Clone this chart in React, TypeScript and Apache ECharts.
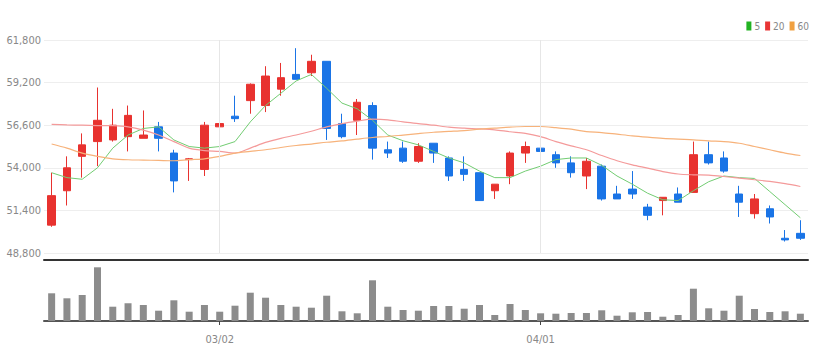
import React, { useEffect, useRef } from "react";
import * as echarts from "echarts";

const dates = [
  "02/14", "02/15", "02/16", "02/17", "02/18", "02/21", "02/22", "02/23", "02/24", "02/25", "02/28",
  "03/02", "03/03", "03/04", "03/07", "03/08", "03/10", "03/11", "03/14", "03/15", "03/16", "03/17", "03/18",
  "03/21", "03/22", "03/23", "03/24", "03/25", "03/28", "03/29", "03/30", "03/31",
  "04/01", "04/04", "04/05", "04/06", "04/07", "04/08", "04/11", "04/12", "04/13", "04/14", "04/15",
  "04/18", "04/19", "04/20", "04/21", "04/22", "04/25", "04/26",
];

const opens = [50500, 52600, 54700, 55600, 55700, 55900, 55800, 56500, 54900, 54500, 53900, 56500, 57150, 58100, 57800, 58800, 59700, 59800, 60500, 56700, 56900, 57800, 55100, 55200, 54400, 55500, 54600, 53900, 53700, 52600, 53500, 54900, 55200, 54800, 54300, 53500, 54100, 52400, 52700, 51600, 52000, 52400, 52500, 54800, 54600, 52400, 51200, 51500, 49700, 50000];
const closes = [52300, 54000, 55400, 56900, 56600, 57200, 56000, 55800, 53200, 54550, 56600, 56700, 57000, 59100, 59600, 59500, 59400, 60500, 56400, 55900, 58000, 55200, 54900, 54400, 55300, 54900, 53500, 53600, 52000, 53000, 54900, 55300, 55000, 54300, 53700, 54400, 52100, 52100, 52400, 51100, 52200, 51900, 54800, 54300, 53800, 51900, 52100, 51000, 49600, 49700];
const lows = [50400, 51700, 53400, 54100, 55600, 55000, 55800, 55000, 52500, 53200, 53500, 55900, 56800, 57300, 57400, 58400, 59400, 59600, 55700, 55800, 56000, 54500, 54600, 54300, 54300, 54300, 53200, 53200, 52000, 52100, 53000, 54300, 54400, 54000, 53400, 52700, 52000, 52100, 52100, 50800, 51100, 51900, 52500, 54200, 53700, 51000, 50900, 50600, 49500, 49600];
const highs = [53700, 54700, 56100, 58900, 57600, 57800, 57500, 56800, 55100, 54600, 56800, 56900, 58400, 59150, 60200, 60400, 61300, 60900, 60500, 57300, 58200, 58000, 55600, 55600, 55500, 55500, 54700, 54700, 53700, 53000, 55000, 55600, 56000, 55000, 54700, 54600, 54200, 52900, 53800, 51800, 52200, 52800, 55600, 55600, 55000, 52900, 52400, 51700, 50200, 50800];

const ma5 = [53700, 53400, 53300, 54000, 55200, 56000, 56400, 56500, 55700, 55300, 55200, 55300, 55600, 56800, 57800, 58550, 59300, 59700, 58850, 57950, 57600, 56900, 56000, 55650, 55400, 55000, 54600, 54300, 53800, 53400, 53400, 53800, 54100, 54500, 54600, 54600, 54150, 53500, 53000, 52450, 52050, 52000, 52600, 53150, 53500, 53400, 53350, 52550, 51750, 50950];
const ma20 = [56650, 56620, 56600, 56580, 56570, 56500, 56300, 56000, 55600, 55200, 55050, 55000, 54900, 55200, 55550, 55800, 56000, 56230, 56500, 56700, 56850, 56970, 56930, 56800, 56700, 56600, 56480, 56420, 56380, 56320, 56200, 56100, 55900, 55600, 55340, 55100, 54750, 54430, 54180, 53980, 53770, 53620, 53570, 53550, 53470, 53370, 53270, 53170, 53030, 52860];
const ma60 = [55450, 55200, 54900, 54700, 54550, 54490, 54470, 54450, 54430, 54500, 54550, 54700, 54900, 55000, 55100, 55240, 55360, 55450, 55560, 55640, 55750, 55850, 55910, 56000, 56090, 56170, 56220, 56270, 56360, 56420, 56480, 56520, 56520, 56450, 56360, 56210, 56150, 56050, 55950, 55870, 55800, 55750, 55710, 55640, 55600, 55500, 55300, 55100, 54900, 54750];

const volumes = [277, 227, 260, 537, 143, 177, 160, 103, 207, 93, 160, 93, 153, 283, 233, 160, 143, 133, 253, 97, 77, 407, 143, 110, 103, 150, 150, 123, 160, 60, 170, 110, 77, 73, 80, 80, 107, 53, 87, 90, 43, 60, 323, 127, 103, 253, 120, 90, 97, 73];

const yTicks = [48800, 51400, 54000, 56600, 59200, 61800];
const monthStarts = ["03/02", "04/01"];

const UP = "#e8322f";
const DOWN = "#1a74e6";
const FONT = '"Liberation Sans Narrow", "DejaVu Sans Condensed", "Liberation Sans", sans-serif';

export default function App() {
  const ref = useRef<HTMLDivElement>(null);
  useEffect(() => {
    if (!ref.current) return;
    const chart = echarts.init(ref.current, null, { renderer: "svg" });
    const showMonth = (_i: number, v: string) => monthStarts.includes(v);
    const ohlc = dates.map((_, i) => [opens[i], closes[i], lows[i], highs[i]]);
    chart.setOption({
      animation: false,
      backgroundColor: "#fff",
      legend: {
        right: 18,
        top: 21,
        icon: "rect",
        itemWidth: 5,
        itemHeight: 9,
        itemGap: 5,
        padding: 0,
        textStyle: { fontSize: 10, color: "#888", fontFamily: FONT, padding: [0, 0, 0, -2] },
        data: [
          { name: "5", itemStyle: { color: "#22b322" } },
          { name: "20", itemStyle: { color: "#e83535" } },
          { name: "60", itemStyle: { color: "#f0a040" } },
        ],
      },
      grid: [
        { left: 44, top: 40, width: 764, height: 213 },
        { left: 44, top: 261, width: 764, height: 60 },
      ],
      xAxis: [
        {
          type: "category",
          gridIndex: 0,
          data: dates,
          boundaryGap: true,
          offset: 7,
          axisLine: { show: true, onZero: false, lineStyle: { color: "#333", width: 2 } },
          axisTick: { show: false },
          axisLabel: { show: false },
          splitLine: { show: false },
        },
        {
          type: "category",
          gridIndex: 1,
          data: dates,
          boundaryGap: true,
          axisLine: { show: true, lineStyle: { color: "#555", width: 2 } },
          axisTick: { show: true, alignWithLabel: true, interval: showMonth, length: 4, lineStyle: { color: "#444", width: 1 } },
          axisLabel: { interval: showMonth, color: "#888", fontSize: 11, margin: 13, fontFamily: FONT },
          splitLine: { show: false },
        },
      ],
      yAxis: [
        {
          type: "value",
          gridIndex: 0,
          min: 48800,
          max: 61800,
          axisLine: { show: false },
          axisTick: { show: false, customValues: yTicks },
          axisLabel: {
            customValues: yTicks,
            color: "#888",
            fontSize: 11,
            margin: 3,
            fontFamily: FONT,
            formatter: (v: number) => v.toLocaleString("en-US"),
          },
          splitLine: { show: true, lineStyle: { color: "#eeeeee", width: 1 } },
        },
        {
          type: "value",
          gridIndex: 1,
          min: 0,
          max: 600,
          show: false,
          splitLine: { show: false },
        },
      ],
      series: [
        {
          name: "monthLines",
          type: "line",
          xAxisIndex: 0,
          yAxisIndex: 0,
          data: [],
          z: 0,
          color: "#e6e6e6",
          markLine: {
            silent: true,
            symbol: ["none", "none"],
            label: { show: false },
            lineStyle: { color: "#e6e6e6", type: "solid", width: 1 },
            data: monthStarts.map((m) => ({ xAxis: m, lineStyle: { color: "#e6e6e6" } })),
          },
        },
        {
          name: "candle",
          type: "candlestick",
          xAxisIndex: 0,
          yAxisIndex: 0,
          data: ohlc,
          barWidth: 8,
          itemStyle: { color: UP, color0: DOWN, borderColor: UP, borderColor0: DOWN, borderWidth: 1 },
        },
        {
          name: "5",
          type: "line",
          xAxisIndex: 0,
          yAxisIndex: 0,
          data: ma5,
          showSymbol: false,
          lineStyle: { color: "#72cc72", width: 1 },
          itemStyle: { color: "#22b322" },
        },
        {
          name: "20",
          type: "line",
          xAxisIndex: 0,
          yAxisIndex: 0,
          data: ma20,
          showSymbol: false,
          smooth: 0.3,
          lineStyle: { color: "#f49a9a", width: 1.2 },
          itemStyle: { color: "#e83535" },
        },
        {
          name: "60",
          type: "line",
          xAxisIndex: 0,
          yAxisIndex: 0,
          data: ma60,
          showSymbol: false,
          smooth: 0.3,
          lineStyle: { color: "#f7b27a", width: 1.2 },
          itemStyle: { color: "#f0a040" },
        },
        {
          name: "volume",
          type: "bar",
          xAxisIndex: 1,
          yAxisIndex: 1,
          data: volumes,
          barWidth: 7,
          itemStyle: { color: "#8c8c8c" },
        },
      ],
    });
    return () => chart.dispose();
  }, []);
  return (
    <div
      ref={ref}
      style={{ position: "absolute", left: 0, top: 0, width: 827, height: 361 }}
    />
  );
}
